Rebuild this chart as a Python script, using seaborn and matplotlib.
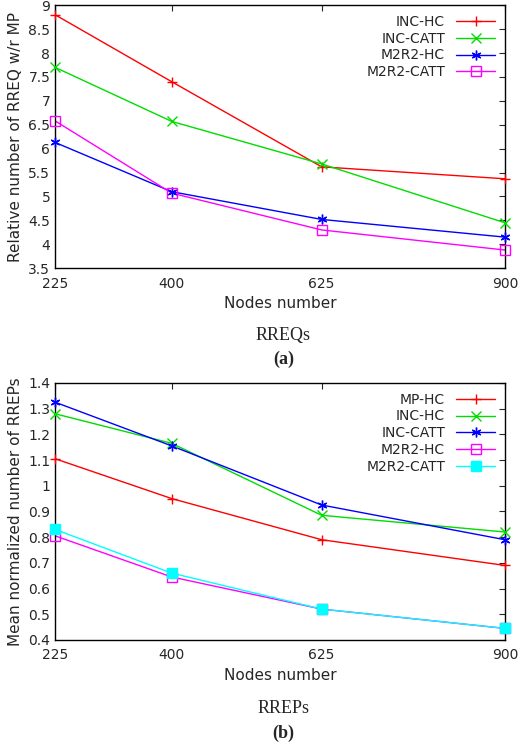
import matplotlib
matplotlib.use("Agg")
import matplotlib.pyplot as plt
import seaborn as sns
import pandas as pd
from matplotlib.lines import Line2D

nodes = [225, 400, 625, 900]
top_series = ["INC-HC", "INC-CATT", "M2R2-HC", "M2R2-CATT"]
top_inc_hc = [8.8, 7.4, 5.62, 5.37]
top_inc_catt = [7.7, 6.57, 5.68, 4.45]
top_m2r2_hc = [6.13, 5.1, 4.52, 4.15]
top_m2r2_catt = [6.58, 5.07, 4.3, 3.88]

bot_series = ["MP-HC", "INC-HC", "INC-CATT", "M2R2-HC", "M2R2-CATT"]
bot_mp_hc = [1.105, 0.95, 0.79, 0.69]
bot_inc_hc = [1.28, 1.165, 0.885, 0.82]
bot_inc_catt = [1.325, 1.155, 0.925, 0.79]
bot_m2r2_hc = [0.805, 0.645, 0.52, 0.445]
bot_m2r2_catt = [0.83, 0.66, 0.52, 0.445]

sns.set_style("white")
plt.rcParams['font.family'] = ['DejaVu Sans']

fig = plt.figure(figsize=(5.2, 7.45), dpi=100)

def make_df(names, vals):
    rows = []
    for n, v in zip(names, vals):
        for x, y in zip(nodes, v):
            rows.append({"Nodes": x, "val": y, "series": n})
    return pd.DataFrame(rows)

ast = (6, 2, 0)
styles = {
    "MP-HC": dict(color="#ff0000", marker="+", mfc="none"),
    "INC-HC": dict(color="#00dd00", marker="x", mfc="none"),
    "INC-CATT": dict(color="#0000ff", marker=ast, mfc="none"),
    "M2R2-HC": dict(color="#ff00ff", marker="s", mfc="none"),
    "M2R2-CATT": dict(color="#00ffff", marker="s", mfc="#00ffff"),
}
top_styles = {
    "INC-HC": dict(color="#ff0000", marker="+", mfc="none"),
    "INC-CATT": dict(color="#00dd00", marker="x", mfc="none"),
    "M2R2-HC": dict(color="#0000ff", marker=ast, mfc="none"),
    "M2R2-CATT": dict(color="#ff00ff", marker="s", mfc="none"),
}

def draw(ax, names, vals, st, ylim, yticks, ylabel):
    df = make_df(names, vals)
    pal = {n: st[n]["color"] for n in names}
    sns.lineplot(data=df, x="Nodes", y="val", hue="series", palette=pal, ax=ax, legend=False, lw=1)
    for n in names:
        sub = df[df.series == n]
        ax.plot(sub.Nodes, sub.val, linestyle="none", marker=st[n]["marker"],
                mfc=st[n]["mfc"], mec=st[n]["color"], ms=7, mew=1, zorder=3, clip_on=False)
    handles = [Line2D([], [], color=st[n]["color"], lw=1, marker=st[n]["marker"], mfc=st[n]["mfc"],
                      mec=st[n]["color"], ms=7) for n in names]
    ax.legend(handles, names, loc="upper right", frameon=False, markerfirst=False,
              fontsize=10, handlelength=2.8, labelspacing=0.2, borderaxespad=0.3)
    ax.set_xlim(225, 900)
    ax.set_xticks(nodes)
    ax.set_ylim(*ylim)
    ax.set_yticks(yticks)
    ax.set_xlabel("Nodes number", fontsize=11)
    ax.set_ylabel(ylabel, fontsize=11)
    ax.tick_params(direction="in", top=True, right=True, labelsize=10, length=4)
    ax.tick_params(axis="x", pad=6)
    for s in ax.spines.values():
        s.set_color("black")
        s.set_linewidth(1)

ax1 = fig.add_axes([0.106, 0.640, 0.865, 0.353])
draw(ax1, top_series, [top_inc_hc, top_inc_catt, top_m2r2_hc, top_m2r2_catt], top_styles,
     (3.5, 9), [3.5, 4, 4.5, 5, 5.5, 6, 6.5, 7, 7.5, 8, 8.5, 9], "Relative number of RREQ w/r MP")
ax1.set_yticklabels(["3.5", "4", "4.5", "5", "5.5", "6", "6.5", "7", "7.5", "8", "8.5", "9"])

ax2 = fig.add_axes([0.106, 0.141, 0.865, 0.345])
draw(ax2, bot_series, [bot_mp_hc, bot_inc_hc, bot_inc_catt, bot_m2r2_hc, bot_m2r2_catt], styles,
     (0.4, 1.4), [0.4, 0.5, 0.6, 0.7, 0.8, 0.9, 1.0, 1.1, 1.2, 1.3, 1.4], "Mean normalized number of RREPs")
ax2.set_yticklabels(["0.4", "0.5", "0.6", "0.7", "0.8", "0.9", "1", "1.1", "1.2", "1.3", "1.4"])

fig.text(0.545, 0.543, "RREQs", ha="center", family="Liberation Serif", fontsize=13)
fig.text(0.545, 0.511, "(a)", ha="center", family="Liberation Serif", fontsize=13, weight="bold")
fig.text(0.545, 0.043, "RREPs", ha="center", family="Liberation Serif", fontsize=13)
fig.text(0.545, 0.010, "(b)", ha="center", family="Liberation Serif", fontsize=13, weight="bold")

fig.savefig("out.png", dpi=100)
